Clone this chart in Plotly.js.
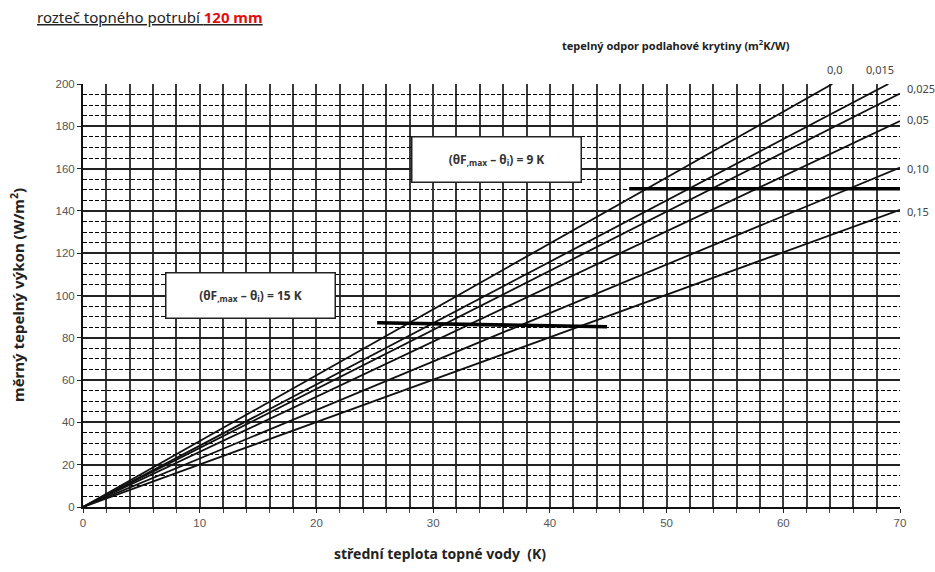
<!DOCTYPE html>
<html>
<head>
<meta charset="utf-8">
<script src="https://cdn.plot.ly/plotly-3.0.1.min.js"></script>
<style>html,body{margin:0;padding:0;background:#fff;}#chart{width:935px;height:572px;}</style>
</head>
<body>
<div id="chart"></div>
<script>
// Floor covering thermal resistance (m2K/W) labels
const resistLabels = ["0,0", "0,015", "0,025", "0,05", "0,10", "0,15"];
// Each line runs from origin to its end point
const lineEndX = [64.2, 69.0, 70, 70, 70, 70];
const lineEndY = [200, 200, 195.5, 182.5, 160.5, 140.5];
// Limit lines (thick)
const limit9X = [46.8, 70];
const limit9Y = [150.5, 150.5];
const limit15X = [25.2, 44.9];
const limit15Y = [87.1, 85.2];
// Axis ticks
const xTicks = [0, 10, 20, 30, 40, 50, 60, 70];
const yTicks = [0, 20, 40, 60, 80, 100, 120, 140, 160, 180, 200];

const traces = [];
for (let i = 0; i < resistLabels.length; i++) {
  traces.push({
    x: [0, lineEndX[i]], y: [0, lineEndY[i]], mode: 'lines', name: resistLabels[i],
    line: {color: '#111', width: 1.8}, hoverinfo: 'skip', showlegend: false
  });
}
traces.push({x: limit9X, y: limit9Y, mode: 'lines', line: {color: '#000', width: 3.6}, showlegend: false, cliponaxis: false});
traces.push({x: limit15X, y: limit15Y, mode: 'lines', line: {color: '#000', width: 3.6}, showlegend: false, cliponaxis: false});

const W = 817, H = 423, L = 83, T = 84;
function px2paperX(p) { return (p - L) / W; }
function px2paperY(p) { return (T + H - p) / H; }

const labelPos = [
  {x: 835, y: 70, anchor: 'center'},
  {x: 880, y: 70, anchor: 'center'},
  {x: 905, y: 88, anchor: 'left'},
  {x: 905, y: 119, anchor: 'left'},
  {x: 905, y: 168, anchor: 'left'},
  {x: 905, y: 211, anchor: 'left'}
];

const annotations = resistLabels.map((t, i) => ({
  text: t, xref: 'paper', yref: 'paper', x: px2paperX(labelPos[i].x), y: px2paperY(labelPos[i].y),
  xanchor: labelPos[i].anchor, yanchor: 'middle', showarrow: false,
  font: {family: 'Noto Sans, sans-serif', size: 11, color: '#444'}
}));

annotations.push({
  text: "<u>rozteč topného potrubí <span style='color:#e01010;font-weight:bold'>120 mm</span></u>",
  xref: 'paper', yref: 'paper', x: px2paperX(35), y: px2paperY(17), xanchor: 'left', yanchor: 'middle',
  showarrow: false, font: {family: 'Noto Sans, sans-serif', size: 15, color: '#222'}
});
annotations.push({
  text: "<b>tepelný odpor podlahové krytiny (m<sup>2</sup>K/W)</b>",
  xref: 'paper', yref: 'paper', x: px2paperX(560), y: px2paperY(45), xanchor: 'left', yanchor: 'middle',
  showarrow: false, font: {family: 'Noto Sans, sans-serif', size: 11, color: '#222'}
});
annotations.push({
  text: "<b>měrný tepelný výkon (W/m<sup>2</sup>)</b>",
  xref: 'paper', yref: 'paper', x: px2paperX(17), y: px2paperY(295), xanchor: 'center', yanchor: 'middle',
  textangle: -90, showarrow: false, font: {family: 'Noto Sans, sans-serif', size: 15, color: '#222'}
});
annotations.push({
  text: "<b>střední teplota topné vody  (K)</b>",
  xref: 'paper', yref: 'paper', x: px2paperX(440), y: px2paperY(553), xanchor: 'center', yanchor: 'middle',
  showarrow: false, font: {family: 'Noto Sans, sans-serif', size: 14, color: '#222'}
});
annotations.push({
  text: "<b>(θF<sub>,max</sub> – θ<sub>i</sub>) = 9 K</b>",
  xref: 'x', yref: 'y', x: 35.43, y: 164.1, xanchor: 'center', yanchor: 'middle', showarrow: false,
  width: 166, height: 42, bgcolor: '#fff', bordercolor: '#222', borderwidth: 1.5, borderpad: 1,
  font: {family: 'Noto Sans, sans-serif', size: 12, color: '#333'}
});
annotations.push({
  text: "<b>(θF<sub>,max</sub> – θ<sub>i</sub>) = 15 K</b>",
  xref: 'x', yref: 'y', x: 14.31, y: 99.8, xanchor: 'center', yanchor: 'middle', showarrow: false,
  width: 166, height: 42, bgcolor: '#fff', bordercolor: '#222', borderwidth: 1.5, borderpad: 1,
  font: {family: 'Noto Sans, sans-serif', size: 12, color: '#333'}
});

const layout = {
  width: 935, height: 572,
  margin: {l: 83, r: 35, t: 84, b: 65, pad: 0},
  paper_bgcolor: '#fff', plot_bgcolor: '#fff',
  showlegend: false,
  xaxis: {
    range: [0, 70], tickvals: xTicks, ticks: 'outside', ticklen: 4, tickcolor: '#222',
    showgrid: true, gridcolor: '#3a3a3a', gridwidth: 2, zeroline: false,
    showline: true, linecolor: '#111', linewidth: 2,
    tickfont: {family: 'Liberation Sans, sans-serif', size: 11.5, color: '#555'},
    minor: {dtick: 2, showgrid: true, gridcolor: '#3a3a3a', gridwidth: 2, ticks: 'outside', ticklen: 4, tickcolor: '#444'},
    fixedrange: true
  },
  yaxis: {
    range: [0, 200], tickvals: yTicks, ticks: 'outside', ticklen: 4, tickcolor: '#222',
    showgrid: true, gridcolor: '#222', gridwidth: 2, zeroline: false,
    showline: true, linecolor: '#111', linewidth: 2,
    tickfont: {family: 'Liberation Sans, sans-serif', size: 11.5, color: '#555'},
    minor: {dtick: 5, showgrid: true, gridcolor: '#000', gridwidth: 1, griddash: '4px,2px'},
    fixedrange: true
  },
  annotations: annotations
};

Plotly.newPlot('chart', traces, layout, {displayModeBar: false, staticPlot: true});
</script>
</body>
</html>
